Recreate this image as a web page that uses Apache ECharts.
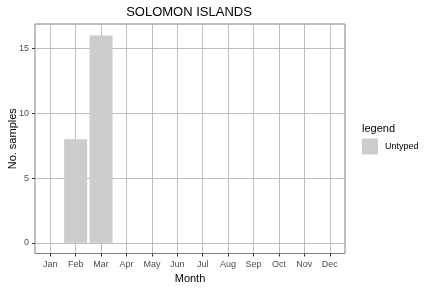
<!DOCTYPE html>
<html>
<head>
<meta charset="utf-8">
<script src="https://cdn.jsdelivr.net/npm/echarts@6/dist/echarts.min.js"></script>
<style>html,body{margin:0;padding:0;background:#fff;}#c{width:432px;height:288px;}</style>
</head>
<body>
<div id="c"></div>
<script>
var months = ['Jan','Feb','Mar','Apr','May','Jun','Jul','Aug','Sep','Oct','Nov','Dec'];
var sampleMonths = ['Feb','Mar'];
var untyped = [8, 16];
var yTicks = [0, 5, 10, 15];
var seriesName = 'Untyped';

var FONT = 'Liberation Sans, Arial, sans-serif';
var chart = echarts.init(document.getElementById('c'), null, {renderer:'canvas'});
var tickIdx = months.map(function(m,i){return i;});
chart.setOption({
  animation: false,
  backgroundColor: '#ffffff',
  title: [
    {text: 'SOLOMON ISLANDS', left: 189, top: 6, textAlign: 'center', padding: 0,
     textStyle: {fontFamily: FONT, fontSize: 13, fontWeight: 'normal', color: '#000'}},
    {text: 'legend', left: 362, top: 123, padding: 0,
     textStyle: {fontFamily: FONT, fontSize: 11, fontWeight: 'normal', color: '#000'}}
  ],
  legend: {
    left: 362, top: 138.5, padding: 0, orient: 'vertical', icon: 'rect', itemWidth: 16, itemHeight: 16,
    itemGap: 4,
    textStyle: {fontFamily: FONT, fontSize: 9, color: '#000', padding: [0,0,0,2]},
    data: [seriesName]
  },
  grid: {left: 35, right: 87, top: 24, bottom: 34.5, show: true, borderColor: '#7f7f7f', borderWidth: 1,
         containLabel: false, outerBoundsMode: 'none'},
  xAxis: {
    type: 'value', min: -0.6, max: 11.6,
    name: 'Month', nameLocation: 'middle', nameGap: 20, nameMoveOverlap: false,
    nameTextStyle: {fontFamily: FONT, fontSize: 11, color: '#000'},
    axisLine: {show: false, onZero: false},
    axisTick: {show: true, length: 3, customValues: tickIdx, lineStyle: {color: '#333'}},
    axisLabel: {customValues: tickIdx, margin: 6.5, fontFamily: FONT, fontSize: 9, color: '#4d4d4d',
      formatter: function(v){ return months[Math.round(v)] || ''; }},
    splitLine: {show: true, lineStyle: {color: '#bebebe', width: 1}}
  },
  yAxis: {
    type: 'value', min: -0.82, max: 16.88,
    name: 'No. samples', nameLocation: 'middle', nameGap: 17, nameMoveOverlap: false,
    nameTextStyle: {fontFamily: FONT, fontSize: 11, color: '#000'},
    axisLine: {show: false, onZero: false},
    axisTick: {show: true, length: 3, customValues: yTicks, lineStyle: {color: '#333'}},
    axisLabel: {customValues: yTicks, margin: 6, fontFamily: FONT, fontSize: 9, color: '#4d4d4d'},
    splitLine: {show: true, lineStyle: {color: '#bebebe', width: 1}}
  },
  series: [{
    name: seriesName, type: 'bar', barWidth: 23,
    itemStyle: {color: '#cccccc'},
    data: sampleMonths.map(function(m,i){ return [months.indexOf(m), untyped[i]]; })
  }]
});
</script>
</body>
</html>
